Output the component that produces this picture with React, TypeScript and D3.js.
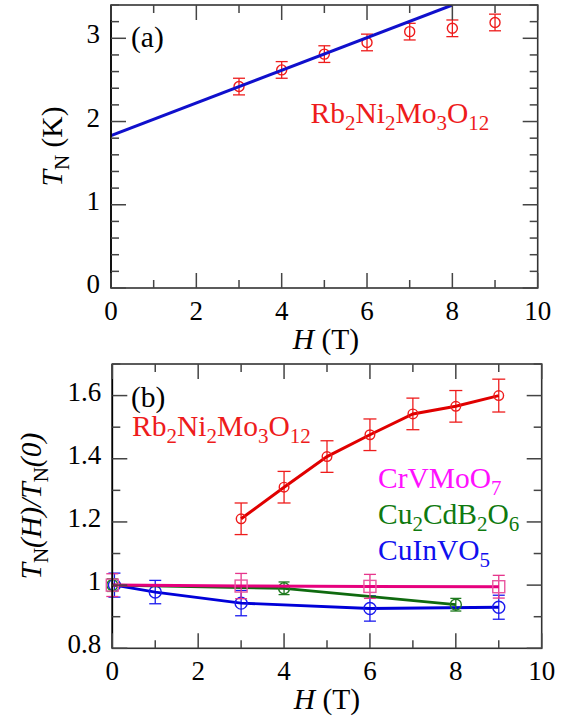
import React from "react";
import * as d3 from "d3";

// ---------- Data ----------
// Panel (a): Rb2Ni2Mo3O12 T_N vs H
const H_A = [3, 4, 5, 6, 7, 8, 9];
const TN_A = [2.42, 2.62, 2.81, 2.95, 3.08, 3.12, 3.19];
const TN_A_ERR = [0.1, 0.1, 0.1, 0.1, 0.1, 0.1, 0.1];
const FIT_H = [0, 8];
const FIT_TN = [1.83, 3.4];

// Panel (b): T_N(H)/T_N(0)
const RB_H = [3, 4, 5, 6, 7, 8, 9];
const RB_R = [1.21, 1.31, 1.407, 1.476, 1.542, 1.566, 1.6];
const RB_ERR = [0.05, 0.05, 0.05, 0.05, 0.05, 0.05, 0.052];

const CR_H = [0, 3, 6, 9];
const CR_R = [1.0, 0.997, 0.996, 0.995];
const CR_ERR = [0.036, 0.04, 0.038, 0.036];

const CU2_H = [0, 4, 8];
const CU2_R = [1.0, 0.99, 0.938];
const CU2_ERR = [0.02, 0.02, 0.02];

const CUIN_H = [0.05, 1, 3, 6, 9];
const CUIN_R = [1.0, 0.978, 0.943, 0.926, 0.93];
const CUIN_ERR = [0.038, 0.037, 0.04, 0.04, 0.038];

const X_TICKS = [0, 2, 4, 6, 8, 10];
const YA_TICKS = [0, 1, 2, 3];
const YB_TICKS = [0.8, 1.0, 1.2, 1.4, 1.6];

const FONT = "Liberation Serif, DejaVu Serif, Times New Roman, serif";
const TICK_FS = 27;
const LABEL_FS = 29.5;
const SUB_FS = 21;

function Formula({ text, x, y, fill }: { text: string; x: number; y: number; fill: string }) {
  const parts = text.match(/[A-Za-z]+|\d+/g) || [];
  let sub = false;
  return (
    <text x={x} y={y} fill={fill} style={{ fontFamily: FONT, fontSize: LABEL_FS }}>
      {parts.map((p, i) => {
        const isNum = /\d/.test(p);
        let dy = 0;
        if (isNum && !sub) { dy = 7; sub = true; }
        else if (!isNum && sub) { dy = -7; sub = false; }
        return (
          <tspan key={i} dy={dy} style={{ fontSize: isNum ? SUB_FS : LABEL_FS }}>{p}</tspan>
        );
      })}
    </text>
  );
}

function Frame({ x, y, xMinor, yMajor, yMinor, fmtY }: any) {
  const [x0, x1] = x.range();
  const [y0, y1] = y.range(); // y0 bottom, y1 top
  const tc = "#444";
  const MAJ = 15, MIN = 8;
  const els: any[] = [];
  xMinor.forEach((v: number, i: number) => {
    const isMaj = X_TICKS.includes(v);
    const L = isMaj ? MAJ : MIN;
    const px = x(v);
    els.push(<line key={"xb" + i} x1={px} x2={px} y1={y0} y2={y0 - L} stroke={tc} strokeWidth={1.5} />);
    els.push(<line key={"xt" + i} x1={px} x2={px} y1={y1} y2={y1 + L} stroke={tc} strokeWidth={1.5} />);
  });
  yMinor.forEach((v: number, i: number) => {
    const isMaj = yMajor.some((m: number) => Math.abs(m - v) < 1e-6);
    const L = isMaj ? MAJ : MIN;
    const py = y(v);
    els.push(<line key={"yl" + i} x1={x0} x2={x0 + L} y1={py} y2={py} stroke={tc} strokeWidth={1.5} />);
    els.push(<line key={"yr" + i} x1={x1} x2={x1 - L} y1={py} y2={py} stroke={tc} strokeWidth={1.5} />);
  });
  return (
    <g>
      <rect x={x0} y={y1} width={x1 - x0} height={y0 - y1} fill="none" stroke="#333" strokeWidth={1.6} />
      <line x1={x0} x2={x0} y1={y1} y2={y0} stroke="#000" strokeWidth={1.6} />
      {els}
      {X_TICKS.map((v) => (
        <text key={"xl" + v} x={x(v)} y={y0 + 32} textAnchor="middle" style={{ fontFamily: FONT, fontSize: TICK_FS }}>{v}</text>
      ))}
      {yMajor.map((v: number) => (
        <text key={"ylb" + v} x={x0 - 11} y={y(v) + 5} textAnchor="end" style={{ fontFamily: FONT, fontSize: TICK_FS }}>{fmtY(v)}</text>
      ))}
    </g>
  );
}

function ErrSeries({ H, V, E, x, y, color, lineColor, marker, lw, r, cap, markerColor, errColor }: any) {
  const line = d3.line<number>().x((_, i) => x(H[i])).y((d) => y(d));
  return (
    <g>
      {H.map((h: number, i: number) => {
        const px = x(h);
        const top = y(V[i] + E[i]);
        const bot = y(V[i] - E[i]);
        return (
          <g key={i} stroke={errColor || color} strokeWidth={1.3} fill="none">
            <line x1={px} x2={px} y1={top} y2={bot} />
            <line x1={px - cap} x2={px + cap} y1={top} y2={top} />
            <line x1={px - cap} x2={px + cap} y1={bot} y2={bot} />
          </g>
        );
      })}
      {lineColor && <path d={line(V) || ""} fill="none" stroke={lineColor} strokeWidth={lw} />}
      {H.map((h: number, i: number) => {
        const px = x(h), py = y(V[i]);
        return marker === "square" ? (
          <rect key={"m" + i} x={px - r} y={py - r} width={2 * r} height={2 * r} fill="none" stroke={markerColor || color} strokeWidth={1.4} />
        ) : (
          <circle key={"m" + i} cx={px} cy={py} r={r} fill="none" stroke={markerColor || color} strokeWidth={1.4} />
        );
      })}
    </g>
  );
}

export default function App() {
  // Panel (a)
  const xA = d3.scaleLinear().domain([0, 10]).range([111, 537.7]);
  const yA = d3.scaleLinear().domain([0, 3.4]).range([288, 5]);
  // Panel (b)
  const xB = d3.scaleLinear().domain([0, 10]).range([112.3, 541.7]);
  const yB = d3.scaleLinear().domain([0.8, 1.7]).range([648.3, 364]);

  const xMinor = d3.range(0, 11, 1);
  const yAMinor = d3.range(0, 3.41, 0.2).map((v) => +v.toFixed(2));
  const yBMinor = d3.range(0.8, 1.71, 0.1).map((v) => +v.toFixed(2));

  const fitLine = d3.line<number>().x((_, i) => xA(FIT_H[i])).y((d) => yA(d));
  const labelStyle = { fontFamily: FONT, fontSize: LABEL_FS };

  return (
    <svg width={568} height={720} style={{ position: "absolute", left: 0, top: 0, background: "#fff", fontFamily: FONT }}>
      <defs>
        <clipPath id="clipA">
          <rect x={111} y={5} width={537.7 - 111} height={288 - 5} />
        </clipPath>
      </defs>

      {/* ---------- Panel (a) ---------- */}
      <ErrSeries H={H_A} V={TN_A} E={TN_A_ERR} x={xA} y={yA} color="#ee1c1c" marker="circle" r={5} cap={6} />
      <path d={fitLine(FIT_TN) || ""} fill="none" stroke="#1010cc" strokeWidth={3} clipPath="url(#clipA)" />
      <Frame x={xA} y={yA} xMinor={xMinor} yMajor={YA_TICKS} yMinor={yAMinor} fmtY={(v: number) => String(v)} />
      <text x={131} y={47} style={labelStyle}>(a)</text>
      <Formula text="Rb2Ni2Mo3O12" x={310.5} y={123} fill="#ee1c1c" />
      <text x={326} y={349} textAnchor="middle" style={labelStyle}>
        <tspan style={{ fontStyle: "italic" }}>H</tspan> (T)
      </text>
      <text transform={`translate(62,${(5 + 288) / 2}) rotate(-90)`} textAnchor="middle" style={labelStyle}>
        <tspan style={{ fontStyle: "italic" }}>T</tspan>
        <tspan style={{ fontSize: SUB_FS }} dy={7}>N</tspan>
        <tspan dy={-7}> (K)</tspan>
      </text>

      {/* ---------- Panel (b) ---------- */}
      <ErrSeries H={CUIN_H} V={CUIN_R} E={CUIN_ERR} x={xB} y={yB} color="#1a1aee" lineColor="#0000d8" lw={2.8} marker="circle" r={6} cap={6} />
      <ErrSeries H={CU2_H} V={CU2_R} E={CU2_ERR} x={xB} y={yB} color="#1f7a1f" lineColor="#0f6a0f" lw={2.8} marker="circle" r={5.5} cap={5.5} />
      <ErrSeries H={CR_H} V={CR_R} E={CR_ERR} x={xB} y={yB} color="#e6368c" lineColor="#e6007e" lw={3} marker="square" r={6} cap={6} markerColor="#e9569f" />
      <ErrSeries H={RB_H} V={RB_R} E={RB_ERR} x={xB} y={yB} color="#ee1c1c" lineColor="#e00000" lw={3} marker="circle" r={4.8} cap={6.5} />
      <Frame x={xB} y={yB} xMinor={xMinor} yMajor={YB_TICKS} yMinor={yBMinor} fmtY={(v: number) => (v === 1 ? "1" : v.toFixed(1))} />
      <text x={131} y={407} style={labelStyle}>(b)</text>
      <Formula text="Rb2Ni2Mo3O12" x={132} y={436} fill="#ee1c1c" />
      <Formula text="CrVMoO7" x={378} y={488} fill="#ff10ff" />
      <Formula text="Cu2CdB2O6" x={378} y={524} fill="#0f7a0f" />
      <Formula text="CuInVO5" x={378} y={560} fill="#1010ee" />
      <text x={327} y={709} textAnchor="middle" style={labelStyle}>
        <tspan style={{ fontStyle: "italic" }}>H</tspan> (T)
      </text>
      <text transform={`translate(41,${(364 + 648.3) / 2}) rotate(-90)`} textAnchor="middle" style={labelStyle}>
        <tspan style={{ fontStyle: "italic" }}>T</tspan>
        <tspan style={{ fontSize: SUB_FS }} dy={7}>N</tspan>
        <tspan dy={-7} style={{ fontStyle: "italic" }}>(H)/T</tspan>
        <tspan style={{ fontSize: SUB_FS }} dy={7}>N</tspan>
        <tspan dy={-7} style={{ fontStyle: "italic" }}>(0)</tspan>
      </text>
    </svg>
  );
}
